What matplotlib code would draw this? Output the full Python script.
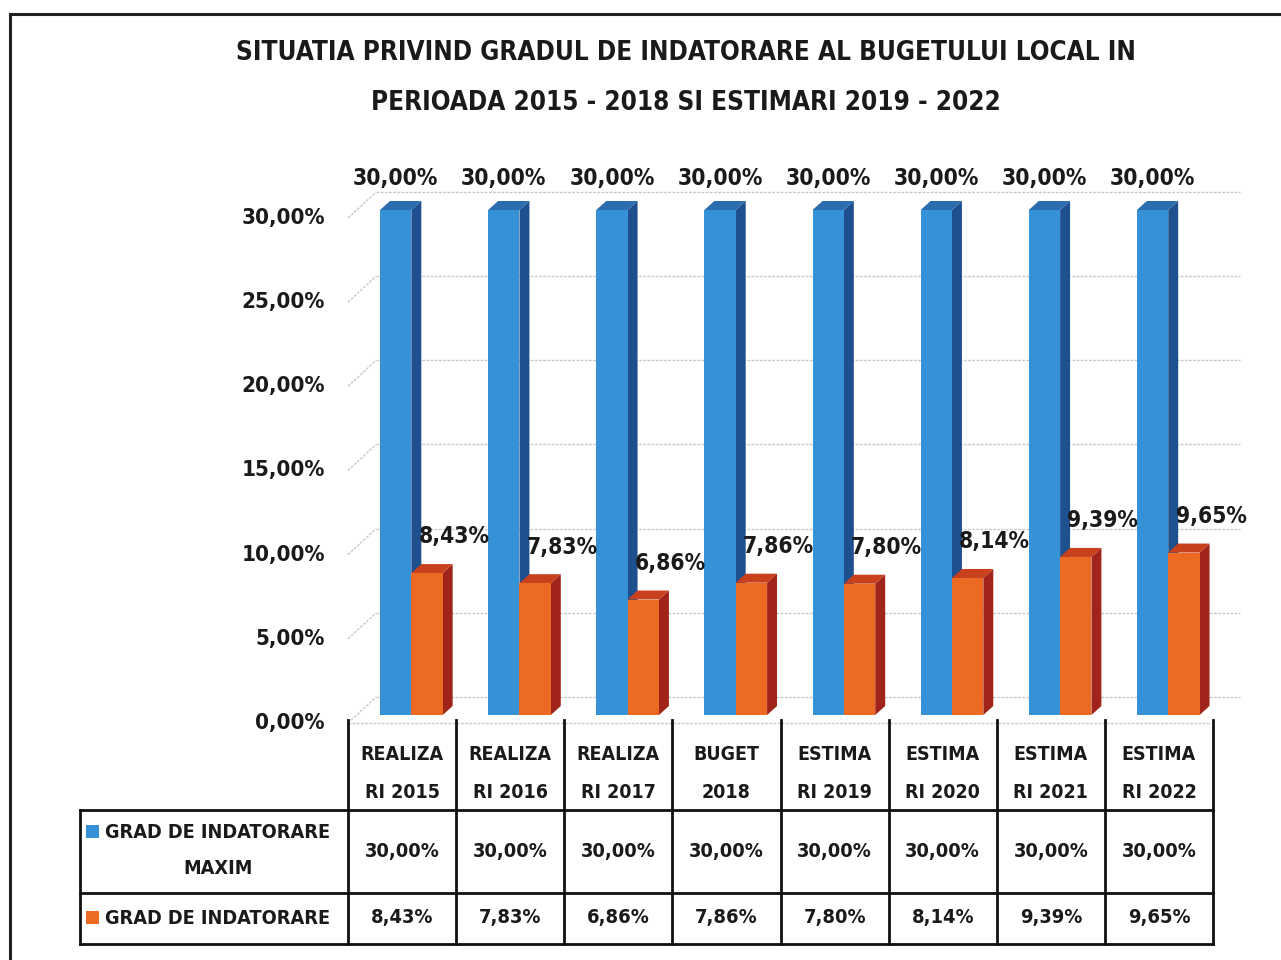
import matplotlib
matplotlib.use("Agg")
import matplotlib.pyplot as plt
from matplotlib import font_manager as fm
from matplotlib.patches import Polygon, Rectangle
from matplotlib.lines import Line2D

# ---------------- data ----------------
categories = ["REALIZA\nRI 2015", "REALIZA\nRI 2016", "REALIZA\nRI 2017", "BUGET\n2018",
              "ESTIMA\nRI 2019", "ESTIMA\nRI 2020", "ESTIMA\nRI 2021", "ESTIMA\nRI 2022"]
series_names = ["GRAD DE INDATORARE\nMAXIM", "GRAD DE INDATORARE"]
grad_maxim = [30.00, 30.00, 30.00, 30.00, 30.00, 30.00, 30.00, 30.00]
grad_indatorare = [8.43, 7.83, 6.86, 7.86, 7.80, 8.14, 9.39, 9.65]
y_ticks = [0, 5, 10, 15, 20, 25, 30]
title_text = "SITUATIA PRIVIND GRADUL DE INDATORARE AL BUGETULUI LOCAL IN\nPERIOADA 2015 - 2018 SI ESTIMARI 2019 - 2022"

# ---------------- fonts ----------------
names = {f.name for f in fm.fontManager.ttflist}
if "Liberation Sans Narrow" in names:
    FONT = dict(family="Liberation Sans Narrow", weight="bold")
    SC = 1.0
else:
    FONT = dict(family="DejaVu Sans", weight="bold", stretch="condensed")
    SC = 0.80

def pct(v):
    return f"{v:.2f}".replace(".", ",") + "%"

W, H = 1281, 960
fig = plt.figure(figsize=(W / 100, H / 100), dpi=100)
fig.patch.set_facecolor("white")

def fx(px):
    return px / W

def fy(py):
    return 1 - py / H

# main axes: x = category index (0..8), y = percent
ax = fig.add_axes([fx(348), fy(715), fx(1213) - fx(348), fy(210) - fy(715)])
ax.set_xlim(0, 8)
ax.set_ylim(0, 30)
ax.axis("off")

blue = dict(front="#3592D6", side="#1E4F8E", top="#2C6DB0")
orange = dict(front="#EC6A22", side="#A0241A", top="#C8401C")
styles = [blue, orange]
series = [grad_maxim, grad_indatorare]

bw = 0.29
off0 = 0.296
dx = 0.092
dy = 0.535

# back wall / floor grid
grid_kw = dict(color="#c8c8cc", lw=1.0, ls=(0, (2, 1)), zorder=0, clip_on=False)
back_dy = 1.07
front_dy = -0.475
for v in y_ticks:
    ax.plot([0.26, 8.25], [v + back_dy, v + back_dy], **grid_kw)
    ax.plot([0.0, 0.26], [v + front_dy, v + back_dy], **grid_kw)
ax.plot([0.0, 7.97], [front_dy, front_dy], **grid_kw)

# 3D-looking bars
for s, (vals, st) in enumerate(zip(series, styles)):
    for i, v in enumerate(vals):
        x0 = i + off0 + s * bw
        x1 = x0 + bw
        ax.add_patch(Polygon([(x1, 0), (x1 + dx, dy), (x1 + dx, v + dy), (x1, v)],
                             closed=True, fc=st["side"], ec="none", zorder=2 + s * 2, clip_on=False))
        ax.add_patch(Polygon([(x0, v), (x1, v), (x1 + dx, v + dy), (x0 + dx, v + dy)],
                             closed=True, fc=st["top"], ec="none", zorder=2 + s * 2, clip_on=False))
    xs = [i + off0 + s * bw for i in range(len(vals))]
    ax.bar(xs, vals, width=bw, align="edge", color=st["front"], zorder=3 + s * 2, clip_on=False)

# value labels
for i, v in enumerate(grad_maxim):
    ax.annotate(pct(v), (i + off0 + bw / 2, v), xytext=(0, 23), textcoords="offset points",
                ha="center", va="center", fontsize=20.5 * SC, color="#1a1a1a", zorder=10, **FONT)
for i, v in enumerate(grad_indatorare):
    ax.annotate(pct(v), (i + off0 + 1.5 * bw, v), xytext=(19.5, 26), textcoords="offset points",
                ha="center", va="center", fontsize=20.5 * SC, color="#1a1a1a", zorder=10, **FONT)

# y tick labels
for v in y_ticks:
    ax.text(-0.213, v + front_dy, pct(v), ha="right", va="center",
            fontsize=20 * SC, color="#1a1a1a", **FONT)

# title
fig.text(fx(686), fy(53), title_text.split("\n")[0], ha="center", va="center",
         fontsize=23.4 * SC, color="#1a1a1a", **FONT)
fig.text(fx(686), fy(103), title_text.split("\n")[1], ha="center", va="center",
         fontsize=23.4 * SC, color="#1a1a1a", **FONT)

# ---------------- data table ----------------
pos = ax.get_position()
ncol = len(categories)
col_edges = [pos.x0 + k * pos.width / ncol for k in range(ncol + 1)]
col_centers = [(col_edges[k] + col_edges[k + 1]) / 2 for k in range(ncol)]
line_kw = dict(color="#111111", lw=2.0, transform=fig.transFigure, solid_capstyle="projecting")

y_head_top, y_r1, y_r2, y_bot = 720, 810, 893, 944
x_left = 80
for xe in col_edges:
    fig.add_artist(Line2D([xe, xe], [fy(y_head_top), fy(y_bot)], **line_kw))
for yy in (y_r1, y_r2, y_bot):
    fig.add_artist(Line2D([fx(x_left), col_edges[-1]], [fy(yy), fy(yy)], **line_kw))
fig.add_artist(Line2D([fx(x_left), fx(x_left)], [fy(y_r1), fy(y_bot)], **line_kw))

for k, cat in enumerate(categories):
    top, bot = cat.split("\n")
    fig.text(col_centers[k], fy(755), top, ha="center", va="center", fontsize=17.5 * SC, color="#1a1a1a", **FONT)
    fig.text(col_centers[k], fy(792), bot, ha="center", va="center", fontsize=17.5 * SC, color="#1a1a1a", **FONT)
    fig.text(col_centers[k], fy(852), pct(grad_maxim[k]), ha="center", va="center",
             fontsize=18 * SC, color="#1a1a1a", **FONT)
    fig.text(col_centers[k], fy(918), pct(grad_indatorare[k]), ha="center", va="center",
             fontsize=18 * SC, color="#1a1a1a", **FONT)

# row headers with legend keys
n1a, n1b = series_names[0].split("\n")
fig.add_artist(Rectangle((fx(86), fy(838)), fx(13), fy(825) - fy(838), transform=fig.transFigure,
                         fc=blue["front"], ec="none"))
fig.text(fx(105), fy(832), n1a, ha="left", va="center", fontsize=17.8 * SC, color="#1a1a1a", **FONT)
fig.text(fx(218), fy(869), n1b, ha="center", va="center", fontsize=17.8 * SC, color="#1a1a1a", **FONT)
fig.add_artist(Rectangle((fx(86), fy(924)), fx(13), fy(911) - fy(924), transform=fig.transFigure,
                         fc=orange["front"], ec="none"))
fig.text(fx(105), fy(918), series_names[1], ha="left", va="center", fontsize=17.8 * SC, color="#1a1a1a", **FONT)

# outer frame (left and top edges visible in the scan)
frame_kw = dict(color="#222222", lw=2.2, transform=fig.transFigure)
fig.add_artist(Line2D([fx(10), fx(10)], [fy(14), 0], **frame_kw))
fig.add_artist(Line2D([fx(10), 1.0], [fy(14), fy(14)], **frame_kw))

fig.savefig("out.png", dpi=100)
